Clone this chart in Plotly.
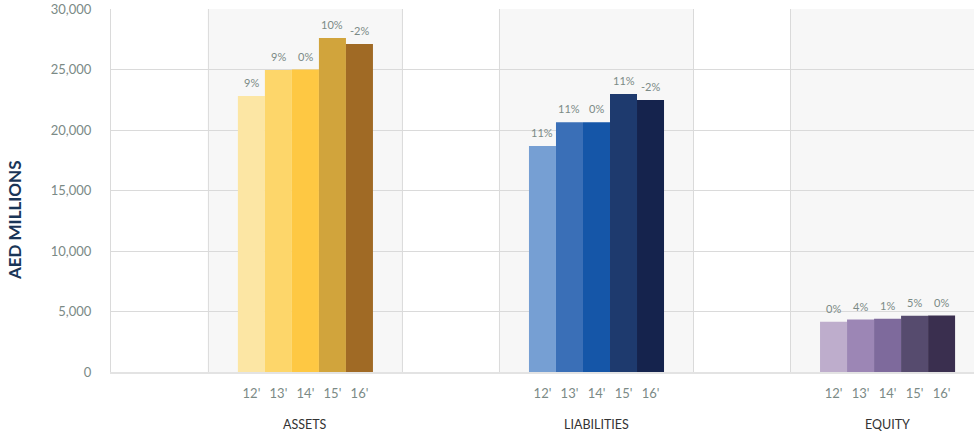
import plotly.graph_objects as go

categories = ["ASSETS", "LIABILITIES", "EQUITY"]
years = ["12'", "13'", "14'", "15'", "16'"]

assets = [22800, 24950, 25000, 27600, 27100]
liabilities = [18680, 20650, 20650, 22980, 22480]
equity = [4160, 4330, 4400, 4650, 4660]

assets_pct = ["9%", "9%", "0%", "10%", "-2%"]
liabilities_pct = ["11%", "11%", "0%", "11%", "-2%"]
equity_pct = ["0%", "4%", "1%", "5%", "0%"]

y_ticks = [0, 5000, 10000, 15000, 20000, 25000, 30000]

colors = {
    "ASSETS": ["#FCE6A4", "#FDD66A", "#FEC843", "#D1A43C", "#A06A25"],
    "LIABILITIES": ["#769FD3", "#3A6FB7", "#1556A8", "#1E3A6E", "#15234D"],
    "EQUITY": ["#BEADCC", "#9C86B5", "#7E6A9C", "#564B6E", "#3A2F4F"],
}

values = {"ASSETS": assets, "LIABILITIES": liabilities, "EQUITY": equity}
pcts = {"ASSETS": assets_pct, "LIABILITIES": liabilities_pct, "EQUITY": equity_pct}

FONT = "Lato"
GREY = "#7b8a86"
GRID = "#dadada"

bargap = 0.536
n = len(years)
bw = (1 - bargap) / n

fig = go.Figure()
for i, yr in enumerate(years):
    fig.add_trace(go.Bar(
        x=list(range(len(categories))),
        y=[values[c][i] for c in categories],
        marker=dict(color=[colors[c][i] for c in categories], line=dict(width=0)),
        name=yr,
        showlegend=False,
        hoverinfo="skip",
    ))

annotations = []
tickvals, ticktext = [], []
for ci, c in enumerate(categories):
    for i, yr in enumerate(years):
        xc = ci + (i - (n - 1) / 2) * bw
        tickvals.append(xc)
        ticktext.append(yr)
        annotations.append(dict(
            x=xc, y=values[c][i], xref="x", yref="y", text=pcts[c][i],
            showarrow=False, yanchor="bottom", yshift=5,
            font=dict(family=FONT, size=11, color=GREY),
        ))
    annotations.append(dict(
        x=ci, y=-0.146, xref="x", yref="paper", text=c, showarrow=False,
        yanchor="middle", font=dict(family=FONT, size=12.5, color="#333333"),
    ))

annotations.append(dict(
    x=-0.111, y=0.419, xref="paper", yref="paper", text="<b>AED MILLIONS</b>",
    textangle=-90, showarrow=False, xanchor="center", yanchor="middle",
    font=dict(family=FONT, size=17, color="#1a3557"),
))

shapes = []
for ci in range(len(categories)):
    shapes.append(dict(type="rect", xref="x", yref="paper", x0=ci - 1 / 3, x1=ci + 1 / 3,
                       y0=0, y1=1, fillcolor="#f7f7f7", line=dict(width=0), layer="below"))
    for xv in (ci - 1 / 3, ci + 1 / 3):
        shapes.append(dict(type="line", xref="x", yref="paper", x0=xv, x1=xv, y0=0, y1=1,
                           line=dict(color=GRID, width=1), layer="below"))

fig.update_layout(
    width=974, height=439,
    margin=dict(l=111, r=0, t=9, b=67),
    paper_bgcolor="white", plot_bgcolor="white",
    barmode="group", bargap=bargap, bargroupgap=0,
    annotations=annotations, shapes=shapes,
    font=dict(family=FONT),
    xaxis=dict(
        range=[-0.668, 2.297], tickvals=tickvals, ticktext=ticktext,
        showgrid=False, zeroline=False, showline=True, linecolor="#e3e3e3", linewidth=2,
        ticks="outside", ticklen=8, tickcolor="rgba(0,0,0,0)",
        tickfont=dict(family=FONT, size=13, color=GREY),
    ),
    yaxis=dict(
        range=[0, 30000], tickvals=y_ticks, tickformat=",",
        showgrid=True, gridcolor=GRID, gridwidth=1, zeroline=False,
        showline=True, linecolor=GRID, linewidth=1,
        ticks="outside", ticklen=16, tickcolor="rgba(0,0,0,0)",
        tickfont=dict(family=FONT, size=13, color=GREY),
    ),
)

fig.write_html("out.html")
